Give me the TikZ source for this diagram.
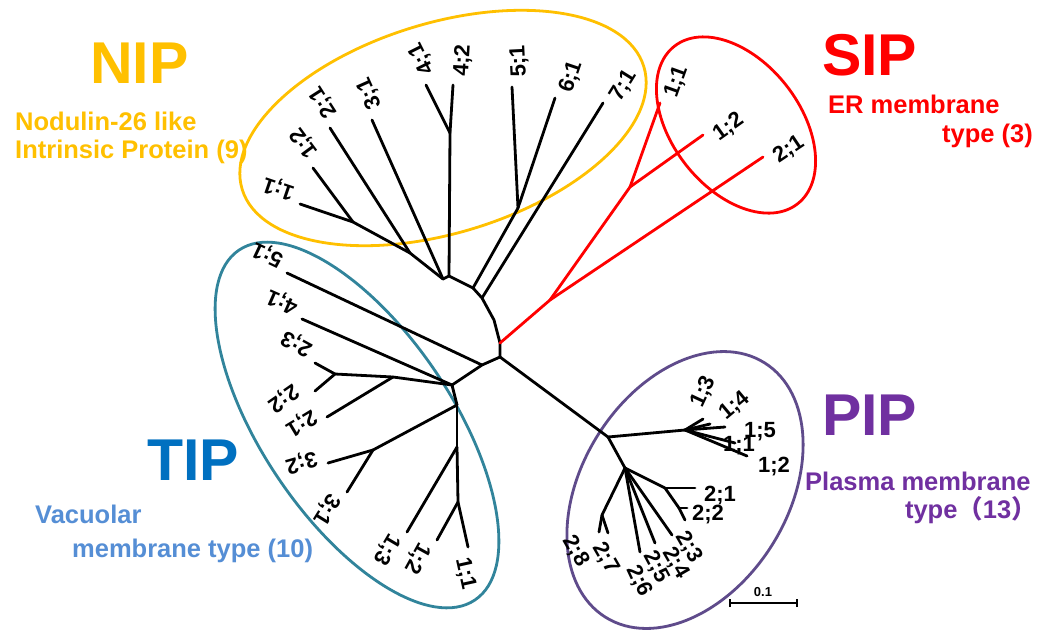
\documentclass[tikz,border=0pt]{standalone}
\usepackage{fontspec}
\setmainfont{Liberation Sans}
\newfontfamily\cjkfont{Noto Sans CJK SC}
\definecolor{nipc}{HTML}{FFC000}
\definecolor{sipc}{HTML}{FF0000}
\definecolor{tipc}{HTML}{0070C0}
\definecolor{tipsub}{HTML}{558ED5}
\definecolor{tipring}{HTML}{31849B}
\definecolor{pipc}{HTML}{7030A0}
\definecolor{pipring}{HTML}{5F4B8B}
\newcommand\labfont{\fontsize{22}{26}\selectfont\bfseries}
\newcommand\bigtfont{\fontsize{59}{64}\selectfont\bfseries}
\newcommand\subtfont{\fontsize{25.5}{29}\selectfont\bfseries}
\tikzset{
  br/.style={line width=2.8pt, line cap=round, line join=round},
  lab/.style={pos=1, sloped, allow upside down, anchor=north west, inner xsep=8pt, inner ysep=0pt,
    text height=13pt, text depth=0pt, font=\labfont},
  plab/.style={font=\labfont, inner sep=0pt},
  grp/.style={line width=2.8pt},
  bigt/.style={font=\bigtfont, anchor=base west, inner sep=0pt},
  subt/.style={font=\subtfont, anchor=base west, inner sep=0pt},
}
\begin{document}
\begin{tikzpicture}[x=1pt, y=-1pt]
\useasboundingbox (0,0) rectangle (1043,633);
\fill[white] (0,0) rectangle (1043,633);

% ---------- group ellipses ----------
\draw[grp, draw=nipc, rotate around={17:(443,128)}] (443,128) ellipse [x radius=210pt, y radius=105pt];
\draw[grp, draw=sipc, rotate around={-52:(736,125)}] (736,125) ellipse [x radius=100pt, y radius=64pt];
\draw[grp, draw=tipring, rotate around={-56:(357,425)}] (357,425) ellipse [x radius=211pt, y radius=95pt];
\draw[grp, draw=pipring, rotate around={58:(685,490)}] (685,490) ellipse [x radius=150pt, y radius=103pt];

% ---------- internal coordinates ----------
\coordinate (r) at (500,357);
\coordinate (a) at (500,343);
\coordinate (ab) at (494,320);
\coordinate (b) at (482,298);
\coordinate (d) at (473,288);
\coordinate (c2) at (449,276);
\coordinate (c1) at (443,279);
\coordinate (e) at (410,253);
\coordinate (f) at (353,222);
\coordinate (g) at (450,133);
\coordinate (h) at (518,208);
% NIP leaves
\coordinate (n11) at (300,204);
\coordinate (n12) at (313,168);
\coordinate (n21) at (330,128);
\coordinate (n31) at (372,120);
\coordinate (n41) at (426,85);
\coordinate (n42) at (453,85);
\coordinate (n51) at (512,87);
\coordinate (n61) at (555,98);
\coordinate (n71) at (603,103);
% SIP
\coordinate (sr) at (550,300);
\coordinate (sq) at (630,187);
\coordinate (s11) at (660,103);
\coordinate (s12) at (703,135);
\coordinate (s21) at (763,157);
% TIP
\coordinate (th) at (482,365);
\coordinate (ti) at (452,385);
\coordinate (tj) at (393,377);
\coordinate (tk) at (335,374);
\coordinate (tp) at (457,405);
\coordinate (tl) at (373,450);
\coordinate (tm) at (457,447);
\coordinate (tn) at (458,502);
\coordinate (t51) at (287,273);
\coordinate (t41) at (302,319);
\coordinate (t23) at (315,363);
\coordinate (t22) at (315,391);
\coordinate (t21) at (327,417);
\coordinate (t32) at (328,463);
\coordinate (t31) at (347,492);
\coordinate (t13) at (407,532);
\coordinate (t12) at (437,540);
\coordinate (t11) at (468,547);
% PIP
\coordinate (ps) at (608,437);
\coordinate (pt) at (685,430);
\coordinate (pu) at (625,468);
\coordinate (pv) at (665,488);
\coordinate (py) at (679,508);
\coordinate (pw) at (602,515);
\coordinate (p13) at (703,419);
\coordinate (p14) at (710,424);
\coordinate (p15) at (725,427);
\coordinate (p11) at (735,443);
\coordinate (p12) at (747,456);
\coordinate (p21) at (695,488);
\coordinate (p22) at (687,508);
\coordinate (p23) at (685,520);
\coordinate (p24) at (672,535);
\coordinate (p25) at (655,543);
\coordinate (p26) at (640,552);
\coordinate (p27) at (608,533);
\coordinate (p28) at (599,532);

% ---------- backbone ----------
\draw[br] (r) -- (a) -- (ab) -- (b) -- (d) -- (c2) -- (c1);
% NIP
\draw[br] (c1) -- (e);
\draw[br] (e) -- (f);
\draw[br] (f) -- node[lab] {1;1} (n11);
\draw[br] (f) -- node[lab] {1;2} (n12);
\draw[br] (e) -- node[lab] {2;1} (n21);
\draw[br] (c1) -- node[lab] {3;1} (n31);
\draw[br] (c2) -- (g);
\draw[br] (g) -- node[lab] {4;1} (n41);
\draw[br] (g) -- node[lab] {4;2} (n42);
\draw[br] (d) -- (h);
\draw[br] (h) -- node[lab] {5;1} (n51);
\draw[br] (h) -- node[lab] {6;1} (n61);
\draw[br] (b) -- node[lab] {7;1} (n71);
% SIP
\draw[br, draw=sipc] (a) -- (sr);
\draw[br, draw=sipc] (sr) -- (sq);
\draw[br, draw=sipc] (sq) -- node[lab] {1;1} (s11);
\draw[br, draw=sipc] (sq) -- node[lab] {1;2} (s12);
\draw[br, draw=sipc] (sr) -- node[lab] {2;1} (s21);
% TIP
\draw[br] (r) -- (th) -- (ti);
\draw[br] (th) -- node[lab] {5;1} (t51);
\draw[br] (ti) -- node[lab] {4;1} (t41);
\draw[br] (ti) -- (tj) -- (tk);
\draw[br] (tk) -- node[lab] {2;3} (t23);
\draw[br] (tk) -- (t22);
\node[plab, rotate=215] (lt22) at (283,398) {2;2};
\draw[br] (tj) -- node[lab] {2;1} (t21);
\draw[br] (ti) -- (tp);
\draw[br] (tp) -- (tl);
\draw[br] (tl) -- node[lab] {3;2} (t32);
\draw[br] (tl) -- node[lab] {3;1} (t31);
\draw[br] (tp) -- (tm);
\draw[br] (tm) -- node[lab] {1;3} (t13);
\draw[br] (tm) -- (tn);
\draw[br] (tn) -- node[lab] {1;2} (t12);
\draw[br] (tn) -- node[lab] {1;1} (t11);
% PIP
\draw[br] (r) -- (ps);
\draw[br] (ps) -- (pt);
\draw[br] (ps) -- (pu);
\draw[br] (pt) -- (p13);
\draw[br] (pt) -- (p14);
\draw[br] (pt) -- (p15);
\draw[br] (pt) -- (p11);
\draw[br] (pt) -- (p12);
\draw[br] (pu) -- (pv);
\draw[br] (pv) -- (p21);
\draw[br] (pv) -- (py);
\draw[br] (py) -- (p22);
\draw[br] (py) -- (p23);
\draw[br] (pu) -- (p24);
\draw[br] (pu) -- (p25);
\draw[br] (pu) -- (p26);
\draw[br] (pu) -- (pw);
\draw[br] (pw) -- (p27);
\draw[br] (pw) -- (p28);
% PIP labels
\node[plab, rotate=65] (lp13) at (704,392) {1;3};
\node[plab, rotate=40] (lp14) at (735,406) {1;4};
\node[plab] (lp15) at (760,432) {1;5};
\node[plab] (lp11) at (739,446) {1;1};
\node[plab] (lp12) at (774,467) {1;2};
\node[plab] (lp21) at (720,496) {2;1};
\node[plab] (lp22) at (708,515) {2;2};
\node[plab, rotate=-60] (lp23) at (689,547) {2;3};
\node[plab, rotate=-60] (lp24) at (676,563) {2;4};
\node[plab, rotate=-62] (lp25) at (656,567) {2;5};
\node[plab, rotate=-65] (lp26) at (639,581) {2;6};
\node[plab, rotate=-60] (lp27) at (606,558) {2;7};
\node[plab, rotate=-60] (lp28) at (576,551) {2;8};

% ---------- scale bar ----------
\coordinate (sb1) at (730,603);
\coordinate (sb2) at (797,603);
\draw[line width=2.8pt] (sb1) -- (sb2);
\draw[line width=1.6pt] ([yshift=-4pt]sb1) -- ([yshift=4pt]sb1);
\draw[line width=1.6pt] ([yshift=-4pt]sb2) -- ([yshift=4pt]sb2);
\node[font=\fontsize{13}{15}\selectfont\bfseries, inner sep=0pt] (sbl) at (763,592) {0.1};

% ---------- titles ----------
\node[bigt, text=nipc] (nipt) at (90,83) {NIP};
\node[subt, text=nipc] (nips1) at (15,130) {Nodulin-26 like};
\node[subt, text=nipc] (nips2) at (15,158) {Intrinsic Protein (9)};
\node[bigt, text=sipc] (sipt) at (822,75) {SIP};
\node[subt, text=sipc] (sips1) at (828,113) {ER membrane};
\node[subt, text=sipc, anchor=base east] (sips2) at (1033,142) {type (3)};
\node[bigt, text=tipc] (tipt) at (147,480) {TIP};
\node[subt, text=tipsub] (tips1) at (35,523) {Vacuolar};
\node[subt, text=tipsub] (tips2) at (72,557) {membrane type (10)};
\node[bigt, text=pipc] (pipt) at (822,435) {PIP};
\node[subt, text=pipc] (pips1) at (805,490) {Plasma membrane};
\node[subt, text=pipc, anchor=base east] (pips2) at (1037,518) {type{\cjkfont（}13{\cjkfont）}};
\end{tikzpicture}
\end{document}
